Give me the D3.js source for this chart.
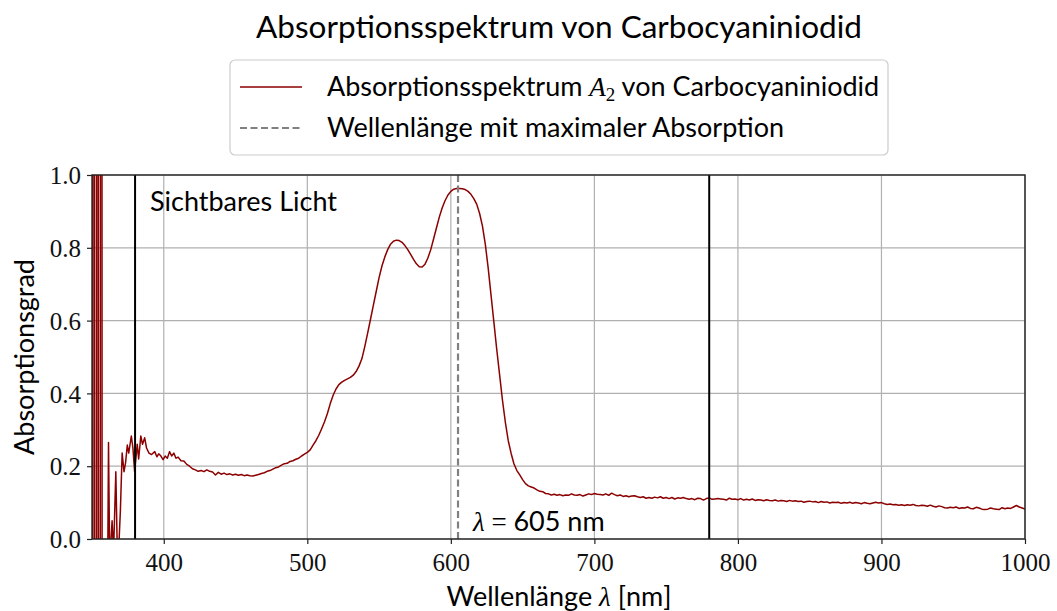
<!DOCTYPE html>
<html>
<head>
<meta charset="utf-8">
<script src="https://cdn.jsdelivr.net/npm/d3@7"></script>
<style>
    body { margin: 0; background: #fff; }
    .sans { font-family: "Lato", "Open Sans", sans-serif; }
    .math { font-family: "Liberation Serif", "DejaVu Serif", serif; }
    .tick text { font-family: "Liberation Serif", "DejaVu Serif", serif; }
</style>
</head>
<body>
<svg id="chart" width="1057" height="611"></svg>
<script>
// unregelmaessig abgetasteter Anfang (Rauschen unter 410 nm)
const noisyStart = [
    [350.0, -3], [350.4, -3], [350.8, 4], [351.6, 4], [352.0, -3], [353.0, -3],
    [353.4, 4], [354.2, 4], [354.6, -3], [355.6, -3], [356.0, 4], [356.8, 4],
    [357.2, -3], [359.0, -0.4], [360.6, -0.3], [361.5, 0.265], [362.3, -0.05],
    [363.0, -0.02], [364.0, 0.05], [365.0, -0.04], [366.6, 0.185], [367.6, -0.03],
    [368.8, -0.01], [369.8, 0.08], [371.0, 0.236], [372.3, 0.185], [373.4, 0.21],
    [374.6, 0.258], [375.6, 0.236], [377.4, 0.283], [378.5, 0.25], [379.7, 0.185],
    [381.5, 0.26], [382.5, 0.22], [384.0, 0.283], [385.2, 0.26], [386.7, 0.278],
    [388.0, 0.25], [389.7, 0.236], [391.5, 0.232], [393.7, 0.24], [395.2, 0.226],
    [396.5, 0.234], [398.0, 0.228], [399.5, 0.218], [401.0, 0.228], [402.5, 0.222],
    [404.0, 0.24], [405.5, 0.228], [407.0, 0.236], [408.5, 0.222]
];

// ab 410 nm in 2-nm-Schritten
const gridStart = 410;
const gridStep = 2;
const absorbance = [
    0.225, 0.215, 0.214, 0.205, 0.2, 0.193, 0.19, 0.186, 0.188, 0.185,
    0.19, 0.186, 0.184, 0.176, 0.183, 0.178, 0.181, 0.177, 0.179, 0.176,
    0.178, 0.175, 0.177, 0.174, 0.176, 0.174, 0.173, 0.175, 0.177, 0.18,
    0.182, 0.186, 0.188, 0.192, 0.196, 0.198, 0.203, 0.207, 0.208, 0.213,
    0.215, 0.219, 0.222, 0.228, 0.233, 0.238, 0.245, 0.258, 0.27, 0.285,
    0.303, 0.322, 0.345, 0.372, 0.395, 0.412, 0.424, 0.431, 0.436, 0.44,
    0.444, 0.45, 0.46, 0.475, 0.495, 0.528, 0.565, 0.603, 0.642, 0.68,
    0.718, 0.75, 0.775, 0.795, 0.81, 0.818, 0.821, 0.82, 0.815, 0.806,
    0.795, 0.782, 0.768, 0.756, 0.748, 0.747, 0.755, 0.772, 0.795, 0.825,
    0.855, 0.885, 0.91, 0.93, 0.945, 0.955, 0.961, 0.963, 0.963, 0.962,
    0.96, 0.955, 0.947, 0.935, 0.92, 0.895, 0.86, 0.81, 0.745, 0.67,
    0.595, 0.52, 0.45, 0.38, 0.32, 0.27, 0.235, 0.206, 0.188, 0.176,
    0.163, 0.152, 0.146, 0.143, 0.14, 0.135, 0.131, 0.13, 0.125, 0.124,
    0.121, 0.123, 0.12, 0.122, 0.119, 0.121, 0.12, 0.124, 0.121, 0.12,
    0.122, 0.118, 0.121, 0.124, 0.122, 0.125, 0.123, 0.122, 0.121, 0.124,
    0.12, 0.126, 0.122, 0.119, 0.121, 0.117, 0.119, 0.116, 0.118, 0.119,
    0.116, 0.114, 0.116, 0.112, 0.114, 0.112, 0.115, 0.113, 0.116, 0.112,
    0.114, 0.111, 0.114, 0.11, 0.113, 0.112, 0.114, 0.111, 0.109, 0.111,
    0.108, 0.112, 0.111, 0.107, 0.111, 0.113, 0.109, 0.11, 0.111, 0.11,
    0.109, 0.107, 0.112, 0.109, 0.11, 0.108, 0.111, 0.107, 0.109, 0.107,
    0.11, 0.106, 0.108, 0.107, 0.105, 0.108, 0.106, 0.105, 0.107, 0.104,
    0.106, 0.105, 0.103, 0.106, 0.104, 0.105, 0.103, 0.104, 0.101, 0.103,
    0.104, 0.102, 0.103, 0.1, 0.103, 0.101, 0.102, 0.099, 0.101, 0.1,
    0.101, 0.098, 0.1, 0.099, 0.101, 0.098, 0.1, 0.099, 0.097, 0.1,
    0.098, 0.097, 0.099, 0.101, 0.099, 0.1, 0.097, 0.095, 0.096, 0.094,
    0.095, 0.093, 0.094, 0.092, 0.094, 0.093, 0.095, 0.092, 0.091, 0.093,
    0.092, 0.09, 0.093, 0.09, 0.088, 0.091, 0.089, 0.086, 0.085, 0.087,
    0.086, 0.088, 0.084, 0.086, 0.085, 0.088, 0.084, 0.083, 0.087, 0.085,
    0.082, 0.081, 0.082, 0.085, 0.083, 0.082, 0.081, 0.086, 0.083, 0.085,
    0.084, 0.088, 0.092, 0.088, 0.085, 0.082
];

const visibleRange = [380, 780];
const peakWavelength = 605;
const xTicks = [400, 500, 600, 700, 800, 900, 1000];
const yTicks = [0.0, 0.2, 0.4, 0.6, 0.8, 1.0];

const spectrum = noisyStart.concat(absorbance.map((a, i) => [gridStart + i * gridStep, a]));

const svg = d3.select("#chart");
const margin = {top: 175, right: 32, bottom: 72, left: 92};
const width = 1057 - margin.left - margin.right;
const height = 611 - margin.top - margin.bottom;

const x = d3.scaleLinear().domain([350, 1000]).range([margin.left, margin.left + width]);
const y = d3.scaleLinear().domain([0, 1]).range([margin.top + height, margin.top]);

svg.append("defs").append("clipPath").attr("id", "plotClip")
    .append("rect")
    .attr("x", margin.left).attr("y", margin.top)
    .attr("width", width).attr("height", height);

// Gitter
svg.append("g")
    .selectAll("line.vgrid")
    .data(xTicks)
    .join("line")
    .attr("x1", d => x(d)).attr("x2", d => x(d))
    .attr("y1", margin.top).attr("y2", margin.top + height)
    .attr("stroke", "#b0b0b0").attr("stroke-width", 1.2);

svg.append("g")
    .selectAll("line.hgrid")
    .data(yTicks)
    .join("line")
    .attr("x1", margin.left).attr("x2", margin.left + width)
    .attr("y1", d => y(d)).attr("y2", d => y(d))
    .attr("stroke", "#b0b0b0").attr("stroke-width", 1.2);

const plot = svg.append("g").attr("clip-path", "url(#plotClip)");

plot.append("path")
    .datum(spectrum)
    .attr("fill", "none")
    .attr("stroke", "#8b0000")
    .attr("stroke-width", 1.5)
    .attr("stroke-linejoin", "round")
    .attr("d", d3.line().x(d => x(d[0])).y(d => y(d[1])));

plot.selectAll("line.visible")
    .data(visibleRange)
    .join("line")
    .attr("x1", d => x(d)).attr("x2", d => x(d))
    .attr("y1", margin.top).attr("y2", margin.top + height)
    .attr("stroke", "#000").attr("stroke-width", 2);

plot.append("line")
    .attr("x1", x(peakWavelength)).attr("x2", x(peakWavelength))
    .attr("y1", margin.top).attr("y2", margin.top + height)
    .attr("stroke", "#808080").attr("stroke-width", 2.2)
    .attr("stroke-dasharray", "7,3.5");

// Achsen
const xAxis = svg.append("g")
    .attr("transform", `translate(0,${margin.top + height})`)
    .call(d3.axisBottom(x).tickValues(xTicks).tickSize(5).tickPadding(6).tickFormat(d3.format("d")));
const yAxis = svg.append("g")
    .attr("transform", `translate(${margin.left},0)`)
    .call(d3.axisLeft(y).tickValues(yTicks).tickSize(5).tickPadding(6).tickFormat(d3.format(".1f")));

[xAxis, yAxis].forEach(a => {
    a.select(".domain").remove();
    a.selectAll(".tick line").attr("stroke", "#222").attr("stroke-width", 1.2);
    a.selectAll(".tick text").attr("fill", "#111").style("font-size", "25px");
});
xAxis.selectAll(".tick text").attr("dy", "0.85em");
yAxis.selectAll(".tick text").attr("dy", "0.35em");

svg.append("rect")
    .attr("x", margin.left).attr("y", margin.top)
    .attr("width", width).attr("height", height)
    .attr("fill", "none").attr("stroke", "#222").attr("stroke-width", 1.4);

// Beschriftungen
svg.append("text").attr("class", "sans")
    .attr("x", 559).attr("y", 38)
    .attr("text-anchor", "middle")
    .style("font-size", "31.5px")
    .text("Absorptionsspektrum von Carbocyaniniodid");

const xl = svg.append("text").attr("class", "sans")
    .attr("x", 559).attr("y", 606)
    .attr("text-anchor", "middle")
    .style("font-size", "27px");
xl.append("tspan").text("Wellenlänge ");
xl.append("tspan").attr("class", "math").style("font-style", "italic").text("λ");
xl.append("tspan").text(" [nm]");

svg.append("text").attr("class", "sans")
    .attr("transform", `translate(34,${margin.top + height / 2}) rotate(-90)`)
    .attr("text-anchor", "middle")
    .style("font-size", "27px")
    .text("Absorptionsgrad");

svg.append("text").attr("class", "sans")
    .attr("x", x(visibleRange[0]) + 15).attr("y", 211)
    .style("font-size", "27px")
    .text("Sichtbares Licht");

const pk = svg.append("text").attr("class", "sans")
    .attr("x", x(peakWavelength) + 15).attr("y", 531)
    .style("font-size", "27px");
pk.append("tspan").attr("class", "math").style("font-style", "italic").text("λ");
pk.append("tspan").attr("class", "math").text(" = ");
pk.append("tspan").text(`${peakWavelength} nm`);

// Legende
const legend = svg.append("g");
legend.append("rect")
    .attr("x", 230).attr("y", 60).attr("width", 658).attr("height", 95)
    .attr("rx", 5)
    .attr("fill", "#fff").attr("fill-opacity", 0.8)
    .attr("stroke", "#cccccc").attr("stroke-width", 1.2);

legend.append("line")
    .attr("x1", 240).attr("x2", 302).attr("y1", 87).attr("y2", 87)
    .attr("stroke", "#8b0000").attr("stroke-width", 1.5);
legend.append("line")
    .attr("x1", 240).attr("x2", 302).attr("y1", 128).attr("y2", 128)
    .attr("stroke", "#808080").attr("stroke-width", 2.2)
    .attr("stroke-dasharray", "7,3.5");

const l1 = legend.append("text").attr("class", "sans")
    .attr("x", 327).attr("y", 96)
    .style("font-size", "27px");
l1.append("tspan").text("Absorptionsspektrum ");
l1.append("tspan").attr("class", "math").style("font-style", "italic").text("A");
l1.append("tspan").attr("class", "math").style("font-size", "19px").attr("dy", 5).text("2");
l1.append("tspan").attr("dy", -5).text(" von Carbocyaniniodid");

legend.append("text").attr("class", "sans")
    .attr("x", 327).attr("y", 137)
    .style("font-size", "27px")
    .text("Wellenlänge mit maximaler Absorption");
</script>
</body>
</html>
